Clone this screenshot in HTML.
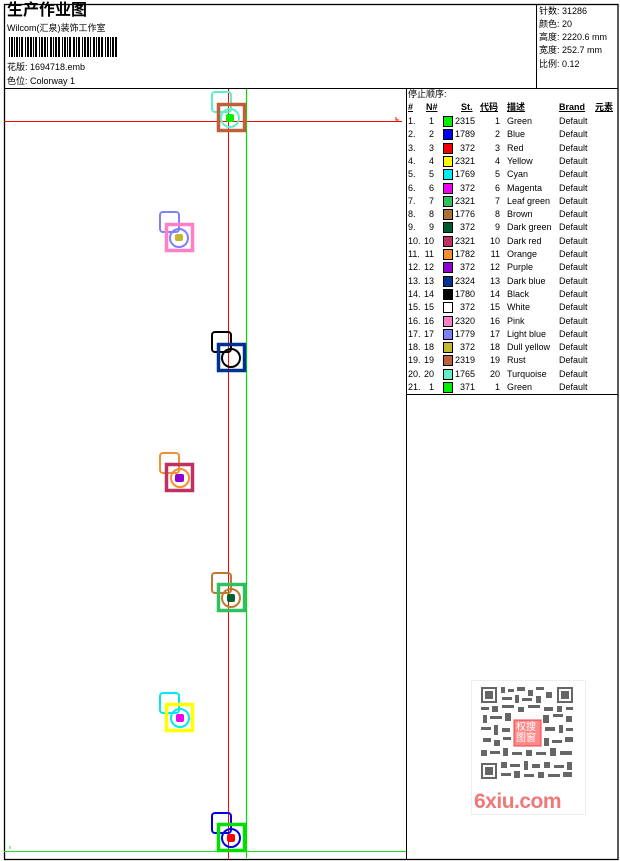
<!DOCTYPE html>
<html><head><meta charset="utf-8"><style>
*{margin:0;padding:0}
body{width:620px;height:861px;background:#fff;position:relative;overflow:hidden;font-family:"Liberation Sans","Noto Sans CJK SC",sans-serif;font-size:9px;color:#000}
.t{position:absolute;white-space:nowrap;line-height:1}
</style></head><body>
<svg width="620" height="861" style="position:absolute;left:0;top:0">
<rect x="4.5" y="4.5" width="613.5" height="855" fill="none" stroke="#000" stroke-width="1.3"/>
<line x1="4" y1="88.5" x2="618" y2="88.5" stroke="#000"/>
<line x1="536.5" y1="4" x2="536.5" y2="88" stroke="#000"/>
<line x1="406.5" y1="88" x2="406.5" y2="860" stroke="#000"/>
<line x1="406" y1="394.5" x2="618" y2="394.5" stroke="#000"/>
<g fill="#000">
<rect x="9" y="37" width="1" height="20"/><rect x="11" y="37" width="2" height="20"/><rect x="14" y="37" width="1" height="20"/><rect x="16" y="37" width="2" height="20"/><rect x="19" y="37" width="1" height="20"/><rect x="21" y="37" width="2" height="20"/><rect x="25" y="37" width="1" height="20"/><rect x="27" y="37" width="2" height="20"/><rect x="30" y="37" width="2" height="20"/><rect x="33" y="37" width="1" height="20"/><rect x="35" y="37" width="2" height="20"/><rect x="39" y="37" width="1" height="20"/><rect x="41" y="37" width="2" height="20"/><rect x="44" y="37" width="2" height="20"/><rect x="47" y="37" width="1" height="20"/><rect x="50" y="37" width="2" height="20"/><rect x="53" y="37" width="1" height="20"/><rect x="55" y="37" width="2" height="20"/><rect x="58" y="37" width="2" height="20"/><rect x="62" y="37" width="1" height="20"/><rect x="64" y="37" width="2" height="20"/><rect x="67" y="37" width="1" height="20"/><rect x="69" y="37" width="2" height="20"/><rect x="73" y="37" width="2" height="20"/><rect x="76" y="37" width="1" height="20"/><rect x="78" y="37" width="2" height="20"/><rect x="82" y="37" width="1" height="20"/><rect x="84" y="37" width="2" height="20"/><rect x="87" y="37" width="2" height="20"/><rect x="90" y="37" width="1" height="20"/><rect x="93" y="37" width="2" height="20"/><rect x="96" y="37" width="1" height="20"/><rect x="98" y="37" width="2" height="20"/><rect x="101" y="37" width="2" height="20"/><rect x="105" y="37" width="1" height="20"/><rect x="107" y="37" width="2" height="20"/><rect x="110" y="37" width="1" height="20"/><rect x="112" y="37" width="2" height="20"/><rect x="115" y="37" width="2" height="20"/>
</g>
<line x1="4" y1="121.5" x2="402" y2="121.5" stroke="#f00"/>
<line x1="228.5" y1="89" x2="228.5" y2="859" stroke="#f00"/>
<line x1="246.5" y1="89" x2="246.5" y2="858" stroke="#0d0" stroke-width="1.2"/>
<line x1="4" y1="851.5" x2="406" y2="851.5" stroke="#2d2"/>
<path d="M396 117v3h3" stroke="#f00" fill="none"/>
<path d="M10 846v3" stroke="#3c3"/>
<g fill="none">
<rect x="212" y="92" width="19" height="20" rx="3" stroke="#60f0c8" stroke-width="2"/>
<rect x="218.5" y="104.5" width="26" height="26" stroke="#c0603a" stroke-width="3.5"/>
<circle cx="230" cy="118" r="9" stroke="#60f0c8" stroke-width="2"/>
<rect x="226" y="114" width="8" height="8" rx="2" fill="#0e0"/>
<rect x="160" y="212" width="19" height="20" rx="3" stroke="#8080ff" stroke-width="2"/>
<rect x="166.5" y="224.5" width="26" height="26" stroke="#ff80c8" stroke-width="3.5"/>
<circle cx="179" cy="238" r="9" stroke="#8080ff" stroke-width="2"/>
<rect x="175" y="234" width="8" height="7" rx="2" fill="#c0b830"/>
<rect x="212" y="332" width="19" height="20" rx="3" stroke="#000" stroke-width="2"/>
<rect x="218.5" y="344.5" width="26" height="26" stroke="#003090" stroke-width="3.5"/>
<circle cx="231" cy="358" r="9" stroke="#000" stroke-width="2"/>
<rect x="160" y="453" width="19" height="20" rx="3" stroke="#f09030" stroke-width="2"/>
<rect x="166.5" y="464.5" width="26" height="26" stroke="#c03060" stroke-width="3.5"/>
<circle cx="180" cy="478" r="9" stroke="#f09030" stroke-width="2"/>
<rect x="175" y="474" width="9" height="8" rx="2" fill="#9000d0"/>
<rect x="212" y="573" width="19" height="20" rx="3" stroke="#c07a30" stroke-width="2"/>
<rect x="218.5" y="584.5" width="26" height="26" stroke="#30c060" stroke-width="3.5"/>
<circle cx="231" cy="598" r="9" stroke="#c07a30" stroke-width="2"/>
<rect x="227" y="594" width="8" height="8" rx="2" fill="#006030"/>
<rect x="160" y="693" width="19" height="20" rx="3" stroke="#00e8f0" stroke-width="2"/>
<rect x="166.5" y="704.5" width="26" height="26" stroke="#ffff00" stroke-width="3.5"/>
<circle cx="180" cy="718" r="9" stroke="#00e8f0" stroke-width="2"/>
<rect x="176" y="714" width="8" height="8" rx="2" fill="#f000f0"/>
<rect x="212" y="813" width="19" height="20" rx="3" stroke="#0000e0" stroke-width="2"/>
<rect x="218.5" y="824.5" width="26" height="26" stroke="#00e000" stroke-width="3.5"/>
<circle cx="231" cy="838" r="9" stroke="#0000e0" stroke-width="2"/>
<rect x="227" y="834" width="8" height="8" rx="2" fill="#f00"/>
</g>
<rect x="471.5" y="680.5" width="114" height="134" fill="#fff" stroke="#eee"/>
<g fill="#666">
<rect x="481" y="687" width="16" height="16"/><rect x="557" y="687" width="16" height="16"/><rect x="481" y="763" width="16" height="16"/>
<g fill="#fff"><rect x="483" y="689" width="12" height="12"/><rect x="559" y="689" width="12" height="12"/><rect x="483" y="765" width="12" height="12"/></g>
<rect x="485" y="691" width="8" height="8"/><rect x="561" y="691" width="8" height="8"/><rect x="485" y="767" width="8" height="8"/>
<rect x="501" y="687" width="4" height="6"/><rect x="508" y="689" width="6" height="3"/><rect x="517" y="687" width="8" height="4"/><rect x="528" y="690" width="5" height="6"/><rect x="536" y="687" width="8" height="3"/><rect x="546" y="692" width="6" height="6"/>
<rect x="502" y="697" width="10" height="3"/><rect x="515" y="695" width="4" height="8"/><rect x="522" y="698" width="10" height="3"/><rect x="536" y="696" width="5" height="7"/>
<rect x="481" y="707" width="8" height="3"/><rect x="492" y="706" width="6" height="6"/><rect x="502" y="705" width="12" height="3"/><rect x="518" y="707" width="6" height="5"/><rect x="528" y="705" width="12" height="3"/><rect x="544" y="707" width="9" height="4"/><rect x="557" y="706" width="5" height="6"/><rect x="566" y="707" width="7" height="3"/>
<rect x="483" y="715" width="4" height="8"/><rect x="490" y="716" width="12" height="3"/><rect x="505" y="713" width="6" height="8"/><rect x="543" y="715" width="6" height="8"/><rect x="553" y="714" width="10" height="3"/><rect x="566" y="716" width="6" height="6"/>
<rect x="481" y="727" width="10" height="3"/><rect x="494" y="725" width="4" height="10"/><rect x="502" y="728" width="8" height="4"/><rect x="545" y="727" width="10" height="4"/><rect x="559" y="725" width="4" height="8"/><rect x="566" y="728" width="7" height="3"/>
<rect x="483" y="738" width="8" height="4"/><rect x="494" y="740" width="6" height="6"/><rect x="503" y="737" width="8" height="3"/><rect x="544" y="738" width="5" height="8"/><rect x="552" y="740" width="10" height="3"/><rect x="565" y="737" width="8" height="5"/>
<rect x="481" y="750" width="6" height="6"/><rect x="490" y="751" width="10" height="3"/><rect x="503" y="748" width="5" height="8"/><rect x="512" y="752" width="10" height="3"/><rect x="526" y="750" width="6" height="6"/><rect x="536" y="752" width="10" height="3"/><rect x="550" y="748" width="6" height="8"/><rect x="560" y="751" width="12" height="4"/>
<rect x="501" y="762" width="6" height="6"/><rect x="510" y="764" width="10" height="3"/><rect x="524" y="761" width="4" height="9"/><rect x="532" y="764" width="8" height="4"/><rect x="544" y="762" width="6" height="6"/><rect x="554" y="765" width="10" height="3"/><rect x="567" y="762" width="5" height="8"/>
<rect x="501" y="773" width="10" height="3"/><rect x="514" y="771" width="6" height="7"/><rect x="524" y="774" width="10" height="3"/><rect x="538" y="772" width="6" height="6"/><rect x="548" y="774" width="12" height="3"/><rect x="563" y="772" width="9" height="5"/>
</g>
<rect x="514" y="720" width="27" height="26" fill="#f88" stroke="#e44"/>
</svg>
<div class="t" style="left:516px;top:722px;font-size:10px;color:#fff;line-height:11px;width:26px">权搜<br>图窗</div>
<div class="t" style="left:474px;top:791px;font-size:21px;font-weight:bold;color:#f07878;letter-spacing:-0.5px">6xiu.com</div>

<div class="t" style="left:7px;top:3px;font-size:16px;font-weight:bold">生产作业图</div>
<div class="t" style="left:7px;top:24px">Wilcom(汇泉)装饰工作室</div>
<div class="t" style="left:7px;top:63px">花版: 1694718.emb</div>
<div class="t" style="left:7px;top:77px">色位: Colorway 1</div>
<div class="t" style="left:539px;top:7px">针数: 31286</div>
<div class="t" style="left:539px;top:20px">颜色: 20</div>
<div class="t" style="left:539px;top:33px">高度: 2220.6 mm</div>
<div class="t" style="left:539px;top:46px">宽度: 252.7 mm</div>
<div class="t" style="left:539px;top:60px">比例: 0.12</div>

<div class="t" style="left:408px;top:90px">停止顺序:</div>
<div class="t" style="left:408px;top:103px;font-weight:bold;text-decoration:underline">#</div>
<div class="t" style="left:426px;top:103px;font-weight:bold;text-decoration:underline">N#</div>
<div class="t" style="left:461px;top:103px;font-weight:bold;text-decoration:underline">St.</div>
<div class="t" style="left:480px;top:103px;font-weight:bold;text-decoration:underline">代码</div>
<div class="t" style="left:507px;top:103px;font-weight:bold;text-decoration:underline">描述</div>
<div class="t" style="left:559px;top:103px;font-weight:bold;text-decoration:underline">Brand</div>
<div class="t" style="left:595px;top:103px;font-weight:bold;text-decoration:underline">元素</div>
<div id="rows"></div>
<script>
var d=[["1.","1","#00f000","2315","1","Green"],["2.","2","#0000f0","1789","2","Blue"],["3.","3","#f00000","372","3","Red"],["4.","4","#ffff00","2321","4","Yellow"],["5.","5","#00f0f0","1769","5","Cyan"],["6.","6","#f000f0","372","6","Magenta"],["7.","7","#30c060","2321","7","Leaf green"],["8.","8","#b07030","1776","8","Brown"],["9.","9","#005a30","372","9","Dark green"],["10.","10","#c03060","2321","10","Dark red"],["11.","11","#f09030","1782","11","Orange"],["12.","12","#9000d0","372","12","Purple"],["13.","13","#003090","2324","13","Dark blue"],["14.","14","#000000","1780","14","Black"],["15.","15","#ffffff","372","15","White"],["16.","16","#ff80c8","2320","16","Pink"],["17.","17","#8080ff","1779","17","Light blue"],["18.","18","#c0b830","372","18","Dull yellow"],["19.","19","#c0603a","2319","19","Rust"],["20.","20","#60f0c8","1765","20","Turquoise"],["21.","1","#00f000","371","1","Green"]];
var h="";d.forEach(function(r,i){var y=117+i*13.3;
h+='<div class="t" style="left:408px;top:'+y+'px">'+r[0]+'</div>';
h+='<div class="t" style="left:416px;width:18px;text-align:right;top:'+y+'px">'+r[1]+'</div>';
h+='<div style="position:absolute;left:443px;top:'+(y-1)+'px;width:8px;height:9px;background:'+r[2]+';border:1px solid #000"></div>';
h+='<div class="t" style="left:450px;width:25px;text-align:right;top:'+y+'px">'+r[3]+'</div>';
h+='<div class="t" style="left:485px;width:15px;text-align:right;top:'+y+'px">'+r[4]+'</div>';
h+='<div class="t" style="left:507px;top:'+y+'px">'+r[5]+'</div>';
h+='<div class="t" style="left:559px;top:'+y+'px">Default</div>';});
document.getElementById("rows").innerHTML=h;
</script>
</body></html>
